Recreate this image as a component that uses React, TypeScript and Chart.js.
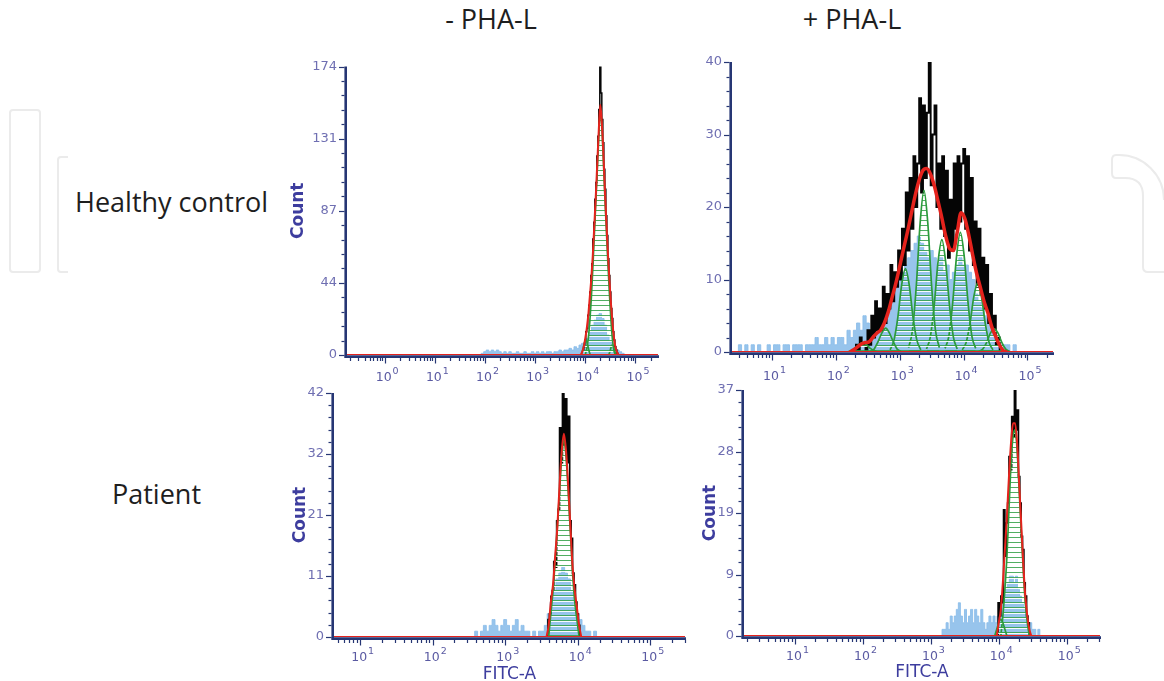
import React, { useEffect, useRef } from 'react';
import { Chart, registerables } from 'chart.js';

Chart.register(...registerables);

// ---------------- shared axis ticks (log10 decades) ----------------
const DECADES_FROM_0 = [0, 1, 2, 3, 4, 5];
const DECADE_EXPONENTS_FROM_0 = ['0', '1', '2', '3', '4', '5'];
const DECADES_FROM_1 = [1, 2, 3, 4, 5];
const DECADE_EXPONENTS_FROM_1 = ['1', '2', '3', '4', '5'];

// ---------------- Panel 1 : Healthy control, - PHA-L ----------------
const P1_X_RANGE = [-0.75, 5.45];
const P1_Y_TICKS = [0, 43.5, 87, 130.5, 174];
const P1_Y_LABELS = ['0', '44', '87', '131', '174'];
const P1_BLUE_START = 1.9;
const P1_BLUE_STEP = 0.05;
const P1_BLUE = [0, 1, 2, 3, 2, 3, 2, 3, 2, 1, 2, 1, 2, 1, 1, 2, 1, 1, 2, 1, 1, 2, 1, 2, 1, 2, 1, 2, 2, 1, 2, 2, 3, 2, 3, 3, 4, 3, 5, 4, 6, 7, 8, 10, 14, 18, 21, 24, 25, 22, 18, 12, 8, 6, 4, 3, 2, 1, 0];
const P1_BLACK_START = 3.96;
const P1_BLACK_STEP = 0.02;
const P1_BLACK = [3, 5, 9, 14, 16, 24, 30, 38, 48, 55, 70, 80, 94, 104, 120, 132, 148, 174, 158, 142, 128, 112, 100, 84, 72, 58, 48, 38, 28, 22, 14, 9, 5, 3, 1, 0];
const P1_RED_START = 3.91;
const P1_RED_STEP = 0.03;
const P1_RED = [0, 2, 5, 10, 16, 24, 35, 46, 60, 78, 96, 116, 136, 151, 140, 122, 100, 80, 62, 46, 32, 20, 11, 5, 2, 0];
const P1_GREEN_STARTS = [3.92, 4.0, 4.47];
const P1_GREEN_STEP = 0.03;
const P1_GREEN = [
  [0, 3, 7, 9, 7, 3, 0],
  [0, 4, 10, 20, 34, 52, 72, 92, 112, 132, 148, 138, 118, 96, 76, 56, 38, 22, 10, 3, 0],
  [0, 3, 6, 5, 2, 0],
];

// ---------------- Panel 2 : Healthy control, + PHA-L ----------------
const P2_X_RANGE = [0.375, 5.4];
const P2_Y_TICKS = [0, 10, 20, 30, 40];
const P2_Y_LABELS = ['0', '10', '20', '30', '40'];
const P2_BLUE_START = 0.45;
const P2_BLUE_STEP = 0.05;
const P2_BLUE = [0, 1, 0, 1, 0, 1, 0, 1, 0, 0, 1, 0, 1, 1, 0, 1, 1, 0, 1, 1, 1, 0, 1, 1, 1, 2, 1, 1, 2, 1, 2, 1, 2, 2, 1, 3, 2, 3, 4, 3, 5, 4, 3, 4, 5, 6, 5, 7, 6, 8, 9, 10, 11, 12, 13, 14, 15, 16, 15, 14, 13, 14, 13, 12, 13, 11, 12, 10, 11, 12, 13, 12, 12, 11, 10, 8, 7, 6, 5, 4, 3, 2, 2, 1, 1, 1, 0, 1, 0];
const P2_BLACK_START = 2.3;
const P2_BLACK_STEP = 0.03;
const P2_BLACK = [0, 1, 0, 2, 1, 1, 0, 3, 1, 5, 2, 7, 3, 6, 3, 9, 4, 8, 6, 12, 7, 11, 9, 14, 10, 17, 12, 22, 14, 24, 17, 27, 20, 26, 35, 22, 34, 24, 33, 40, 23, 30, 34, 20, 26, 17, 27, 16, 25, 13, 21, 14, 26, 17, 27, 18, 26, 28, 17, 27, 14, 24, 12, 18, 9, 17, 8, 13, 6, 12, 4, 8, 3, 5, 1, 2, 0];
const P2_RED_START = 2.22;
const P2_RED_STEP = 0.06;
const P2_RED = [0, 0.3, 0.7, 1.1, 1.3, 1.4, 2.0, 2.6, 3.0, 4.0, 5.5, 7.5, 9.5, 11.8, 14.2, 16.5, 19.0, 21.5, 23.6, 25.0, 25.3, 24.6, 23.0, 20.8, 18.5, 16.0, 14.3, 14.0, 16.5, 19.2, 18.4, 16.2, 13.5, 11.0, 9.0, 7.0, 5.4, 3.5, 2.2, 1.0, 0.2, 0];
const P2_GREEN_STARTS = [2.18, 2.54, 2.85, 3.14, 3.42, 3.71, 3.98, 4.24];
const P2_GREEN_STEP = 0.06;
const P2_GREEN = [
  [0, 0.2, 0.5, 1.0, 1.3, 1.0, 0.5, 0.2, 0],
  [0.1, 0.4, 1.4, 2.6, 3.3, 2.6, 1.4, 0.4, 0.1],
  [0.3, 1.6, 4.7, 9.2, 11.5, 9.2, 4.7, 1.6, 0.3],
  [0.6, 3.0, 9.1, 17.8, 22.3, 17.8, 9.1, 3.0, 0.6],
  [0.4, 2.1, 6.4, 12.4, 15.5, 12.4, 6.4, 2.1, 0.4],
  [0.5, 2.2, 6.8, 13.2, 16.5, 13.2, 6.8, 2.2, 0.5],
  [0.3, 1.3, 3.9, 7.6, 9.5, 7.6, 3.9, 1.3, 0.3],
  [0.1, 0.4, 1.3, 2.6, 3.2, 2.6, 1.3, 0.4, 0.1],
];

// ---------------- Panel 3 : Patient, - PHA-L ----------------
const P3_X_RANGE = [0.64, 5.48];
const P3_Y_TICKS = [0, 10.5, 21, 31.5, 42];
const P3_Y_LABELS = ['0', '11', '21', '32', '42'];
const P3_BLUE_START = 2.56;
const P3_BLUE_STEP = 0.04;
const P3_BLUE = [0, 1, 0, 1, 2, 1, 2, 3, 2, 1, 2, 3, 2, 1, 2, 3, 1, 2, 1, 1, 0, 1, 0, 1, 1, 2, 4, 6, 8, 10, 11, 12, 11, 10, 8, 5, 4, 3, 2, 1, 1, 0, 1, 0];
const P3_BLACK_START = 3.58;
const P3_BLACK_STEP = 0.02;
const P3_BLACK = [0, 3, 4, 7, 8, 13, 12, 20, 22, 36, 30, 42, 33, 41, 30, 38, 20, 17, 11, 9, 6, 4, 2, 0];
const P3_RED_START = 3.57;
const P3_RED_STEP = 0.03;
const P3_RED = [0, 2, 6, 9, 14, 19, 26, 32, 35, 32, 26, 19, 12, 8, 5, 2, 0];
const P3_GREEN_STARTS = [3.6];
const P3_GREEN_STEP = 0.03;
const P3_GREEN = [[0, 4, 8, 13, 19, 25, 31, 34, 31, 25, 18, 11, 6, 3, 0]];

// ---------------- Panel 4 : Patient, + PHA-L ----------------
const P4_X_RANGE = [0.25, 5.49];
const P4_Y_TICKS = [0, 9.25, 18.5, 27.75, 37];
const P4_Y_LABELS = ['0', '9', '19', '28', '37'];
const P4_BLUE_START = 3.15;
const P4_BLUE_STEP = 0.03;
const P4_BLUE = [0, 1, 1, 2, 1, 3, 2, 3, 4, 5, 3, 2, 4, 2, 3, 4, 2, 4, 3, 2, 4, 2, 1, 2, 3, 2, 3, 2, 3, 4, 5, 6, 7, 8, 9, 9, 8, 9, 7, 6, 5, 4, 3, 2, 2, 1, 1, 0, 1, 0];
const P4_BLACK_START = 3.98;
const P4_BLACK_STEP = 0.02;
const P4_BLACK = [0, 5, 3, 6, 5, 19, 12, 17, 20, 27, 25, 33, 30, 37, 31, 34, 24, 20, 15, 13, 8, 6, 3, 2, 0];
const P4_RED_START = 3.97;
const P4_RED_STEP = 0.03;
const P4_RED = [0, 2, 4, 8, 13, 18, 24, 29, 32, 32, 29, 23, 17, 11, 6, 3, 1, 0];
const P4_GREEN_STARTS = [3.94, 4.03];
const P4_GREEN_STEP = 0.03;
const P4_GREEN = [
  [0, 1, 2, 2.5, 2, 1, 0],
  [0, 3, 7, 12, 19, 26, 30, 31, 28, 22, 16, 10, 5, 2, 0],
];

// ---------------- styling ----------------
const NAVY = '#263674';
const RED = '#e5231d';
const GREEN = '#2c9b3c';
const BLUE = 'rgba(140,190,234,0.9)';
const Y_TICK_COLOR = '#6f6fb2';
const X_TICK_COLOR = '#5a5aa2';
const TITLE_COLOR = '#3d3d9e';

type Panel = {
  box: { left: number; top: number; width: number; height: number };
  pad: { top: number; right: number; bottom: number; left: number };
  yWidth: number;
  xHeight: number;
  xLabelOffset: number;
  xRange: number[];
  xTicks: number[];
  xExponents: string[];
  yTicks: number[];
  yLabels: string[];
  yTitlePad: number | null;
  xTitlePad: number | null;
  blue: [number, number, number[]];
  black: [number, number, number[]];
  red: [number, number, number[]];
  greenStarts: number[];
  greenStep: number;
  green: number[][];
  redWidth: number;
  blackWidth: number;
};

const PANELS: Panel[] = [
  {
    box: { left: 270, top: 40, width: 410, height: 350 },
    pad: { top: 26.5, right: 22, bottom: 5, left: 0 },
    yWidth: 77, xHeight: 30, xLabelOffset: 23,
    xRange: P1_X_RANGE, xTicks: DECADES_FROM_0, xExponents: DECADE_EXPONENTS_FROM_0,
    yTicks: P1_Y_TICKS, yLabels: P1_Y_LABELS,
    yTitlePad: 18, xTitlePad: null,
    blue: [P1_BLUE_START, P1_BLUE_STEP, P1_BLUE],
    black: [P1_BLACK_START, P1_BLACK_STEP, P1_BLACK],
    red: [P1_RED_START, P1_RED_STEP, P1_RED],
    greenStarts: P1_GREEN_STARTS, greenStep: P1_GREEN_STEP, green: P1_GREEN,
    redWidth: 2, blackWidth: 1.5,
  },
  {
    box: { left: 680, top: 35, width: 400, height: 350 },
    pad: { top: 27, right: 27, bottom: 3, left: 0 },
    yWidth: 52, xHeight: 30, xLabelOffset: 25,
    xRange: P2_X_RANGE, xTicks: DECADES_FROM_1, xExponents: DECADE_EXPONENTS_FROM_1,
    yTicks: P2_Y_TICKS, yLabels: P2_Y_LABELS,
    yTitlePad: null, xTitlePad: null,
    blue: [P2_BLUE_START, P2_BLUE_STEP, P2_BLUE],
    black: [P2_BLACK_START, P2_BLACK_STEP, P2_BLACK],
    red: [P2_RED_START, P2_RED_STEP, P2_RED],
    greenStarts: P2_GREEN_STARTS, greenStep: P2_GREEN_STEP, green: P2_GREEN,
    redWidth: 3.5, blackWidth: 1.9,
  },
  {
    box: { left: 270, top: 375, width: 430, height: 306 },
    pad: { top: 18, right: 15, bottom: 0, left: 0 },
    yWidth: 64, xHeight: 44, xLabelOffset: 21,
    xRange: P3_X_RANGE, xTicks: DECADES_FROM_1, xExponents: DECADE_EXPONENTS_FROM_1,
    yTicks: P3_Y_TICKS, yLabels: P3_Y_LABELS,
    yTitlePad: 20, xTitlePad: -2,
    blue: [P3_BLUE_START, P3_BLUE_STEP, P3_BLUE],
    black: [P3_BLACK_START, P3_BLACK_STEP, P3_BLACK],
    red: [P3_RED_START, P3_RED_STEP, P3_RED],
    greenStarts: P3_GREEN_STARTS, greenStep: P3_GREEN_STEP, green: P3_GREEN,
    redWidth: 2, blackWidth: 1.6,
  },
  {
    box: { left: 690, top: 372, width: 440, height: 309 },
    pad: { top: 18, right: 30, bottom: 0, left: 0 },
    yWidth: 54, xHeight: 45, xLabelOffset: 21,
    xRange: P4_X_RANGE, xTicks: DECADES_FROM_1, xExponents: DECADE_EXPONENTS_FROM_1,
    yTicks: P4_Y_TICKS, yLabels: P4_Y_LABELS,
    yTitlePad: 10, xTitlePad: 0,
    blue: [P4_BLUE_START, P4_BLUE_STEP, P4_BLUE],
    black: [P4_BLACK_START, P4_BLACK_STEP, P4_BLACK],
    red: [P4_RED_START, P4_RED_STEP, P4_RED],
    greenStarts: P4_GREEN_STARTS, greenStep: P4_GREEN_STEP, green: P4_GREEN,
    redWidth: 2, blackWidth: 1.6,
  },
];

function pts(start: number, step: number, values: number[]) {
  return values.map((v, i) => ({ x: Math.round((start + i * step) * 10000) / 10000, y: v }));
}

const axesPlugin = {
  id: 'flowAxes',
  beforeDatasetsDraw(chart: any) {
    const { ctx, chartArea: a } = chart;
    const xs = chart.scales.x;
    const ys = chart.scales.y;
    const yTicks: number[] = chart.options.plugins.flowAxes.yTicks;
    ctx.save();
    ctx.strokeStyle = NAVY;
    ctx.lineCap = 'butt';
    ctx.lineWidth = 2.6;
    ctx.beginPath();
    ctx.moveTo(a.left - 2.3, a.bottom + 1.6);
    ctx.lineTo(a.right + 1, a.bottom + 1.6);
    ctx.stroke();
    ctx.beginPath();
    ctx.moveTo(a.left - 1.3, a.top);
    ctx.lineTo(a.left - 1.3, a.bottom + 2.9);
    ctx.stroke();
    ctx.lineWidth = 1.2;
    const lo = Math.floor(xs.min);
    const hi = Math.ceil(xs.max);
    for (let d = lo; d <= hi; d++) {
      for (let m = 1; m <= 9; m++) {
        const v = d + Math.log10(m);
        if (v < xs.min || v > xs.max) continue;
        const px = Math.round(xs.getPixelForValue(v)) + 0.5;
        const len = m === 1 ? 6 : 3.5;
        ctx.beginPath();
        ctx.moveTo(px, a.bottom + 2.5);
        ctx.lineTo(px, a.bottom + 2.5 + len);
        ctx.stroke();
      }
    }
    for (let i = 0; i < yTicks.length; i++) {
      const py = Math.round(ys.getPixelForValue(yTicks[i])) + 0.5;
      ctx.beginPath();
      ctx.moveTo(a.left - 2.5, py);
      ctx.lineTo(a.left - 8, py);
      ctx.stroke();
      if (i < yTicks.length - 1) {
        for (let k = 1; k < 5; k++) {
          const v = yTicks[i] + ((yTicks[i + 1] - yTicks[i]) * k) / 5;
          const qy = Math.round(ys.getPixelForValue(v)) + 0.5;
          ctx.beginPath();
          ctx.moveTo(a.left - 2.5, qy);
          ctx.lineTo(a.left - 5.5, qy);
          ctx.stroke();
        }
      }
    }
    ctx.restore();
  },
  afterDraw(chart: any) {
    const { ctx, chartArea: a } = chart;
    const xs = chart.scales.x;
    const o = chart.options.plugins.flowAxes;
    ctx.save();
    ctx.fillStyle = X_TICK_COLOR;
    ctx.textBaseline = 'middle';
    o.xTicks.forEach((v: number, i: number) => {
      const px = xs.getPixelForValue(v);
      const cy = a.bottom + o.labelOffset;
      ctx.font = '12.5px "DejaVu Sans"';
      ctx.textAlign = 'right';
      ctx.fillText('10', px + 7, cy);
      ctx.font = '9.5px "DejaVu Sans"';
      ctx.textAlign = 'left';
      ctx.fillText(o.xExponents[i], px + 8, cy - 6);
    });
    ctx.restore();
  },
};

function makeChart(canvas: HTMLCanvasElement, p: Panel, pattern: CanvasPattern | string) {
  const datasets: any[] = [];
  datasets.push({
    data: [{ x: p.xRange[0], y: 0 }, { x: p.xRange[1], y: 0 }],
    borderColor: RED, borderWidth: 2, pointRadius: 0, order: 0,
  });
  datasets.push({
    data: pts(p.red[0], p.red[1], p.red[2]),
    borderColor: RED, borderWidth: p.redWidth, pointRadius: 0,
    cubicInterpolationMode: 'monotone', order: 0,
  });
  p.green.forEach((vals, k) => {
    datasets.push({
      data: pts(p.greenStarts[k], p.greenStep, vals),
      borderColor: GREEN, borderWidth: 1.7, pointRadius: 0,
      backgroundColor: pattern, fill: 'origin',
      cubicInterpolationMode: 'monotone', order: 1,
    });
  });
  datasets.push({
    data: pts(p.black[0], p.black[1], p.black[2]),
    borderColor: '#050505', borderWidth: p.blackWidth, pointRadius: 0,
    stepped: 'middle', order: 2,
  });
  datasets.push({
    data: pts(p.blue[0], p.blue[1], p.blue[2]),
    borderColor: BLUE, borderWidth: 1, pointRadius: 0, backgroundColor: BLUE,
    fill: 'origin', stepped: 'middle', order: 3,
  });

  return new Chart(canvas, {
    type: 'line',
    data: { datasets },
    plugins: [axesPlugin],
    options: {
      responsive: false,
      maintainAspectRatio: false,
      animation: false,
      events: [],
      layout: { padding: p.pad },
      plugins: {
        legend: { display: false },
        tooltip: { enabled: false },
        flowAxes: { yTicks: p.yTicks, xTicks: p.xTicks, xExponents: p.xExponents, labelOffset: p.xLabelOffset },
      } as any,
      scales: {
        x: {
          type: 'linear',
          min: p.xRange[0],
          max: p.xRange[1],
          afterBuildTicks: (s: any) => { s.ticks = p.xTicks.map((v) => ({ value: v })); },
          afterFit: (s: any) => {
            s.height = p.xHeight;
            s.paddingLeft = 0; s.paddingRight = 0;
          },
          grid: { display: false, drawTicks: false },
          border: { display: false },
          ticks: { display: false },
          title: {
            display: p.xTitlePad !== null,
            text: 'FITC-A',
            color: TITLE_COLOR,
            font: { family: 'DejaVu Sans', size: 17, lineHeight: 1 },
            padding: { top: 0, bottom: p.xTitlePad ?? 0 },
          },
        },
        y: {
          type: 'linear',
          min: 0,
          max: p.yTicks[p.yTicks.length - 1],
          afterBuildTicks: (s: any) => { s.ticks = p.yTicks.map((v) => ({ value: v })); },
          afterFit: (s: any) => {
            s.width = p.yWidth;
            s.paddingTop = 0; s.paddingBottom = 0;
          },
          grid: { display: false, drawTicks: false },
          border: { display: false },
          ticks: {
            autoSkip: false,
            padding: 10,
            color: Y_TICK_COLOR,
            font: { family: 'DejaVu Sans', size: 13 },
            callback: (_v: any, i: number) => p.yLabels[i],
          },
          title: {
            display: p.yTitlePad !== null,
            text: 'Count',
            color: TITLE_COLOR,
            font: { family: 'DejaVu Sans', size: 17, weight: 'bold' },
            padding: { top: p.yTitlePad ?? 0, bottom: 0 },
          },
        },
      },
    } as any,
  });
}

const ROW_LABELS = ['Healthy control', 'Patient'];
const COL_LABELS = ['- PHA-L', '+ PHA-L'];

export default function App() {
  const r0 = useRef<HTMLCanvasElement>(null);
  const r1 = useRef<HTMLCanvasElement>(null);
  const r2 = useRef<HTMLCanvasElement>(null);
  const r3 = useRef<HTMLCanvasElement>(null);
  const refs = [r0, r1, r2, r3];

  useEffect(() => {
    const tile = document.createElement('canvas');
    tile.width = 8;
    tile.height = 5;
    const g = tile.getContext('2d')!;
    g.fillStyle = 'rgba(50,160,70,0.85)';
    g.fillRect(0, 0, 8, 1);
    g.fillStyle = 'rgba(255,255,255,0.92)';
    g.fillRect(0, 1, 8, 1);
    const pattern = g.createPattern(tile, 'repeat') || 'rgba(255,255,255,0.4)';
    const charts = PANELS.map((p, i) => makeChart(refs[i].current!, p, pattern));
    return () => charts.forEach((c) => c.destroy());
  }, []);

  const textStyle: React.CSSProperties = {
    position: 'absolute',
    fontFamily: '"Open Sans", sans-serif',
    fontSize: 27,
    lineHeight: '27px',
    color: '#1e1e1e',
    whiteSpace: 'nowrap',
  };

  return (
    <div style={{ position: 'fixed', left: 0, top: 0, width: 1164, height: 681, background: '#fff', overflow: 'hidden' }}>
      <svg width={1164} height={681} style={{ position: 'absolute', left: 0, top: 0 }}>
        <g fill="none" stroke="#ebebeb" strokeWidth={2}>
          <rect x={10} y={110} width={30} height={162} rx={3} />
          <path d="M68,157 L61,157 Q58,157 58,160 L58,269 Q58,272 61,272 L68,272" />
          <path d="M1164,200 A45,45 0 0 0 1119,155 L1116,155 Q1112,155 1112,160 L1112,173 Q1112,178 1116,178 L1125,178 Q1143,178 1143,196 L1143,267 Q1143,272 1148,272 L1164,272" />
        </g>
      </svg>
      <div style={{ ...textStyle, left: 391, width: 200, textAlign: 'center', top: 5 }}>{COL_LABELS[0]}</div>
      <div style={{ ...textStyle, left: 752, width: 200, textAlign: 'center', top: 5 }}>{COL_LABELS[1]}</div>
      <div style={{ ...textStyle, left: 75, top: 188 }}>{ROW_LABELS[0]}</div>
      <div style={{ ...textStyle, left: 112, top: 480 }}>{ROW_LABELS[1]}</div>
      {PANELS.map((p, i) => (
        <canvas
          key={i}
          ref={refs[i]}
          width={p.box.width}
          height={p.box.height}
          style={{ position: 'absolute', left: p.box.left, top: p.box.top, width: p.box.width, height: p.box.height }}
        />
      ))}
    </div>
  );
}
